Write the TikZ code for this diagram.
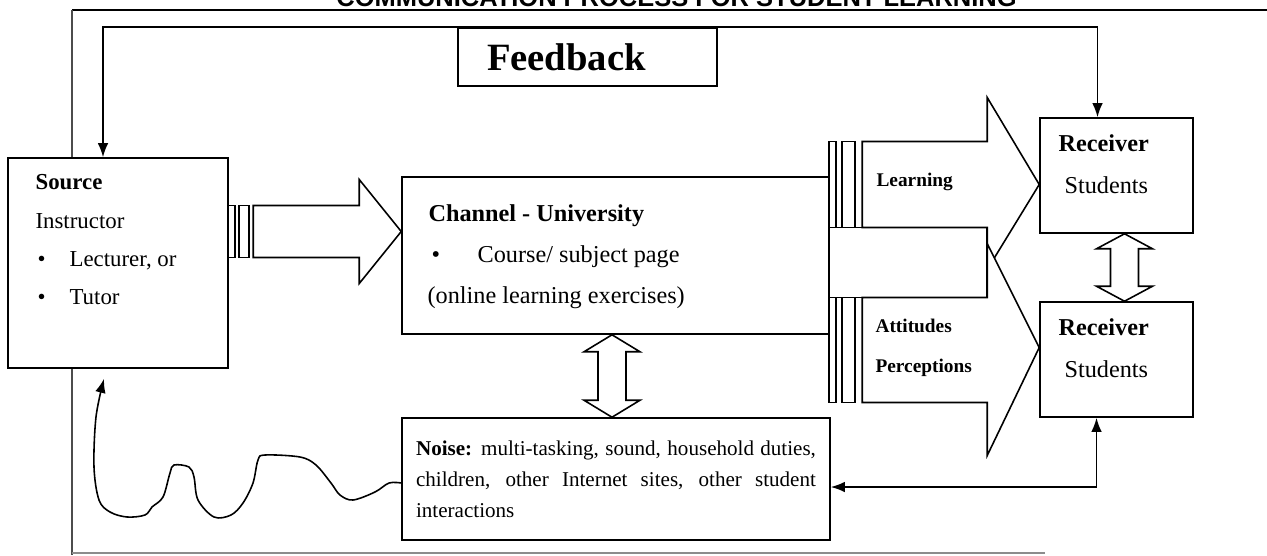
\documentclass[tikz,border=0pt]{standalone}
\usepackage{fontspec}
\setmainfont{Liberation Serif}
\newfontfamily\hdrfont{Liberation Sans}
\usetikzlibrary{arrows.meta,calc}

\begin{document}
\begin{tikzpicture}[x=0.02cm, y=-0.02cm,
  every node/.style={font=\fontsize{13}{15}\selectfont},
  bx/.style={draw, fill=white, line width=0.9pt, inner sep=0pt},
  lbl/.style={anchor=base west, inner sep=0pt},
  big/.style={font=\fontsize{13.8}{16}\selectfont},
  bigb/.style={font=\fontsize{13.8}{16}\selectfont\bfseries},
  arrlbl/.style={anchor=base west, inner sep=0pt, font=\fontsize{11}{13}\selectfont\bfseries},
  blk/.style={draw, fill=white, line width=0.9pt},
  tip/.style={line width=0.9pt, -{Latex[length=8pt,width=6pt]}},
  both/.style={line width=0.9pt, {Latex[length=8pt,width=6pt]}-{Latex[length=8pt,width=6pt]}}]
\useasboundingbox (0,0) rectangle (1267,555);
\clip (0,0) rectangle (1267,555);
% page frame and running head
\draw[line width=1.6pt] (72,10) -- (1267,10);
\draw[black!70, line width=1pt] (72,10) -- (72,555);
\draw[black!45, line width=1pt] (72,553) -- (1045,553);
\node[lbl, font=\hdrfont\bfseries\fontsize{14.5}{16}\selectfont] (ttl) at (336,6) {COMMUNICATION PROCESS FOR STUDENT LEARNING};
% boxes
\node[bx, minimum width=4.4cm, minimum height=4.2cm] (src) at (118,263) {};
\node[bx, minimum height=1.16cm, text width=4.02cm, inner xsep=0.58cm, align=left,
  font=\bfseries\fontsize{22}{26}\selectfont] (fbk) at (587.5,57) {Feedback};
\node[bx, minimum width=8.56cm, minimum height=3.14cm] (chn) at (616,255.5) {};
\node[bx, minimum width=3.06cm, minimum height=2.3cm] (rc1) at (1116.5,175.5) {};
\node[bx, minimum width=3.06cm, minimum height=2.3cm] (rc2) at (1116.5,359.5) {};
\node[bx, minimum height=2.44cm, text width=8cm, inner xsep=0.28cm, align=justify,
  font=\fontsize{12}{17.6}\selectfont] (nse) at (616,479)
  {\spaceskip=0pt \xspaceskip=0pt
   \hbox to\hsize{\textbf{Noise:} multi-tasking, sound, household duties,}
   \hbox to\hsize{children, other Internet sites, other student}
   interactions\par\vspace*{5.6pt}};
% texts in the boxes
\node[lbl, font=\fontsize{13}{15}\selectfont\bfseries] (srca) at ($(src.north west)+(28,32)$) {Source};
\node[lbl] (srcb) at ($(src.north west)+(28,71)$) {Instructor};
\node[lbl] (srcc) at ($(src.north west)+(30,109)$) {•};
\node[lbl] (srcd) at ($(src.north west)+(62,109)$) {Lecturer, or};
\node[lbl] (srce) at ($(src.north west)+(30,147)$) {•};
\node[lbl] (srcf) at ($(src.north west)+(62,147)$) {Tutor};
\node[lbl, bigb] (chna) at ($(chn.north west)+(27,45)$) {Channel - University};
\node[lbl, big] (chnb) at ($(chn.north west)+(30,86)$) {•};
\node[lbl, big] (chnc) at ($(chn.north west)+(76,86)$) {Course/ subject page};
\node[lbl, big] (chnd) at ($(chn.north west)+(26,127)$) {(online learning exercises)};
\node[lbl, bigb] (rc1a) at ($(rc1.north west)+(19,34)$) {Receiver};
\node[lbl, big] (rc1b) at ($(rc1.north west)+(25,76)$) {Students};
\node[lbl, bigb] (rc2a) at ($(rc2.north west)+(19,34)$) {Receiver};
\node[lbl, big] (rc2b) at ($(rc2.north west)+(25,76)$) {Students};
% block arrows
\coordinate (st) at ($(chn.west)+(0,-24)$);
\draw[blk] (st) -- ++(-42,52) -- ++(0,-26) -- ++(-106,0) -- ++(0,-52) -- ++(106,0) -- ++(0,-26) -- cycle;
\draw[blk] ($(st)+(-173,-26)$) rectangle ++(7,52);
\draw[blk] ($(st)+(-162,-26)$) rectangle ++(10,52);
\coordinate (lt) at ($(rc1.west)+(0,9)$);
\coordinate (at) at ($(rc2.west)+(0,-12)$);
\draw[blk] ($(lt)+(-210,43)$) rectangle ($(lt)+(-52,113)$);
\draw[blk] (lt) -- ++(-52,85) -- ++(0,-42) -- ++(-125,0) -- ++(0,-86) -- ++(125,0) -- ++(0,-44) -- cycle;
\draw[blk] ($(lt)+(-210,-43)$) rectangle ++(7,86);
\draw[blk] ($(lt)+(-197,-43)$) rectangle ++(13,86);
\draw[blk] (at) -- ++(-52,-104) -- ++(0,54) -- ++(-125,0) -- ++(0,105) -- ++(125,0) -- ++(0,53) -- cycle;
\draw[blk] ($(at)+(-210,-50)$) rectangle ++(7,105);
\draw[blk] ($(at)+(-197,-50)$) rectangle ++(13,105);
\node[arrlbl] (lrn) at ($(lt)+(-163,2)$) {Learning};
\node[arrlbl] (att) at ($(at)+(-164,-15)$) {Attitudes};
\node[arrlbl] (prc) at ($(at)+(-164,25)$) {Perceptions};
% two-way block arrows
\coordinate (ca) at ($(chn.south)+(-4,0)$);
\coordinate (cb) at ($(nse.north)+(-4,0)$);
\draw[blk] (ca) -- ++(28,17) -- ++(-14,0) -- ($(cb)+(14,-17)$) -- ++(14,0) -- (cb) -- ++(-28,-17) -- ++(14,0) -- ($(ca)+(-14,17)$) -- ++(-14,0) -- cycle;
\coordinate (ra) at ($(rc1.south)+(8,0)$);
\coordinate (rb) at ($(rc2.north)+(8,0)$);
\draw[blk] (ra) -- ++(28,15) -- ++(-14,0) -- ($(rb)+(14,-15)$) -- ++(14,0) -- (rb) -- ++(-28,-15) -- ++(14,0) -- ($(ra)+(-14,15)$) -- ++(-14,0) -- cycle;
% feedback and noise links
\draw[both] ($(src.north)+(-15,0)$) |- (fbk.north) -| ($(rc1.north)+(-19,0)$);
\draw[both] ($(nse.east)+(0,8)$) -| ($(rc2.south)+(-20,0)$);
\coordinate (nw) at ($(nse.west)+(0,4)$);
\coordinate (nz) at ($(src.south)+(-14,10)$);
\draw[tip] plot[smooth, tension=0.55] coordinates {(nw) (389,483) (375,492) (353,500) (340,495) (331,483) (316,465) (300,457) (265,455) (258,460) (253,483) (243,503) (231,515) (214,517) (198,500) (194,477) (189,467) (174,465) (170,473) (163,497) (152,507) (145,515) (127,517) (110,512) (99,500) (94,467) (96,417) (nz)};
\end{tikzpicture}
\end{document}
